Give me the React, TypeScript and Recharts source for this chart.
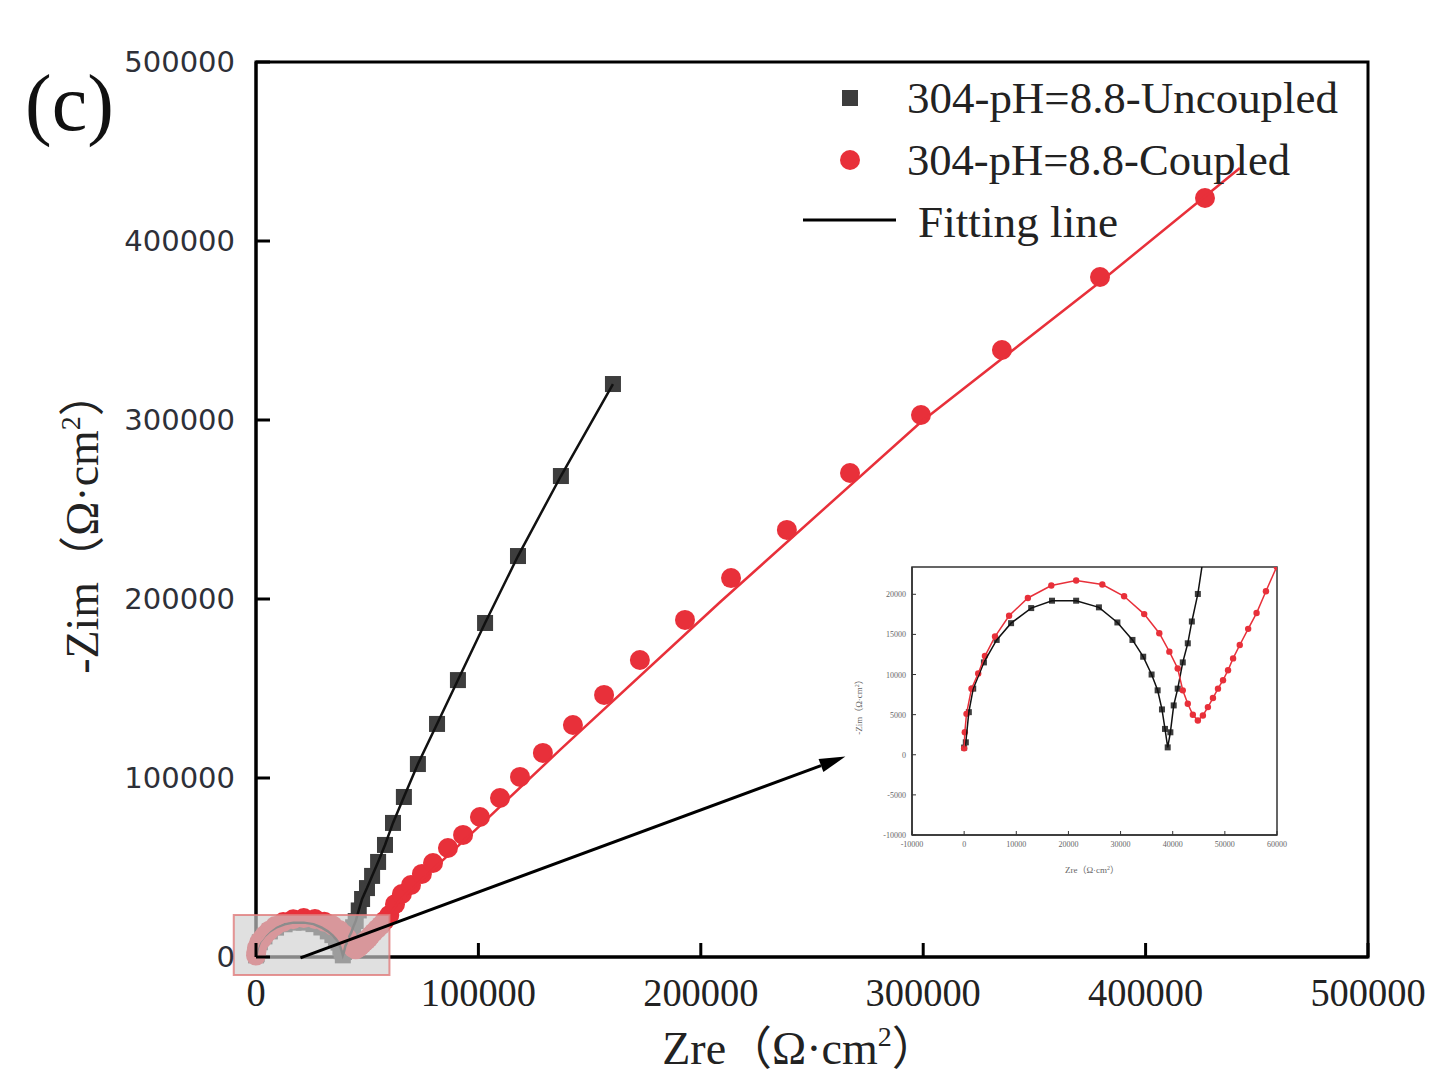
import React from 'react';
import {
  ScatterChart, Scatter, XAxis, YAxis, ReferenceArea, ReferenceLine,
} from 'recharts';

// Nyquist data, 304 stainless steel at pH 8.8 (Zre, -Zim in Ω·cm²)
const uncoupledZre = [0, 320, 900, 1740, 3790, 6240, 9000, 12860, 16850, 21480, 25850, 29390, 32280, 34340, 35950, 37110, 37940, 38520, 39040, 39550, 40190, 40960, 41930, 42890, 43670, 44820, 46200, 47700, 49900, 52200, 54900, 58000, 61600, 66500, 72800, 81400, 90800, 103000, 117800, 137100, 160500];
const uncoupledZim = [900, 1550, 5310, 8240, 11510, 14310, 16400, 18280, 19200, 19200, 18370, 16490, 14310, 12220, 10000, 8030, 5650, 3220, 920, 2800, 6150, 8240, 11510, 13890, 16610, 20040, 26000, 32400, 38500, 45300, 53100, 62600, 74900, 89400, 107800, 130200, 154700, 186600, 224000, 268700, 320100];

const coupledZre = [0, 130, 450, 1410, 2700, 3990, 5920, 8620, 12220, 16720, 21480, 26500, 30680, 34530, 37430, 39360, 40960, 41930, 42890, 43860, 44820, 45790, 46750, 47720, 48680, 49650, 50610, 51580, 52860, 54470, 56080, 57880, 59940, 62500, 65600, 69700, 74600, 79600, 86300, 93100, 100700, 109700, 118700, 129000, 142500, 156500, 172600, 192900, 213600, 238700, 267100, 299000, 335400, 379500, 426700];
const coupledZim = [800, 2800, 5100, 8240, 10130, 12300, 14730, 17320, 19540, 21090, 21720, 21210, 19750, 17530, 15150, 12850, 10750, 8030, 6360, 4980, 4270, 4900, 5940, 7070, 8240, 9290, 10540, 12010, 13680, 15690, 17660, 20380, 23430, 29500, 35200, 40200, 46400, 52500, 60900, 68200, 78200, 88800, 100600, 114000, 129600, 146400, 165900, 188300, 211700, 238600, 270400, 302800, 339100, 379900, 424000];

// equivalent-circuit fits
const uncoupledFitZre = uncoupledZre;
const uncoupledFitZim = uncoupledZim;
const coupledFitZre = [0, 130, 450, 1410, 2700, 3990, 5920, 8620, 12220, 16720, 21480, 26500, 30680, 34530, 37430, 39360, 40960, 41930, 42890, 43860, 44820, 45790, 46750, 47720, 48680, 49650, 50610, 51580, 52860, 54470, 56080, 57880, 59940, 64700, 100000, 136700, 208600, 299000, 379500, 442400];
const coupledFitZim = [800, 2800, 5100, 8240, 10130, 12300, 14730, 17320, 19540, 21090, 21720, 21210, 19750, 17530, 15150, 12850, 10750, 8030, 6360, 4980, 4270, 4900, 5940, 7070, 8240, 9290, 10540, 12010, 13680, 15690, 17660, 20380, 23430, 31800, 72600, 115700, 198200, 298900, 377100, 440800];

const mainTicks = [0, 100000, 200000, 300000, 400000, 500000];
const insetXTicks = [-10000, 0, 10000, 20000, 30000, 40000, 50000, 60000];
const insetYTicks = [-10000, -5000, 0, 5000, 10000, 15000, 20000];

const legendLabels = ['304-pH=8.8-Uncoupled', '304-pH=8.8-Coupled', 'Fitting line'];

const zip = (xs: number[], ys: number[]) => xs.map((x, i) => ({ x, y: ys[i] }));
const uncoupled = zip(uncoupledZre, uncoupledZim);
const coupled = zip(coupledZre, coupledZim);
const uncoupledFit = zip(uncoupledFitZre, uncoupledFitZim);
const coupledFit = zip(coupledFitZre, coupledFitZim);

const SERIF = '"Liberation Serif", "Times New Roman", "Noto Sans CJK SC", serif';
const SANS = '"DejaVu Sans", Verdana, sans-serif';
const RED = '#e8303a';
const GREY = '#3d3d3d';

const square = (size: number) => (p: any) =>
  <rect x={p.cx - size / 2} y={p.cy - size / 2} width={size} height={size} fill={GREY} />;
const dot = (r: number) => (p: any) => <circle cx={p.cx} cy={p.cy} r={r} fill={RED} />;
const noMarker = () => <g />;

// ticks are drawn inward, labels sit outside the frame
const MainYTick = ({ x, y, payload }: any) => (
  <g>
    <line x1={x + 21} y1={y} x2={x + 35} y2={y} stroke="#000" strokeWidth={3} />
    <text x={x} y={y + 10} textAnchor="end" fontFamily={SANS} fontSize={29} fill="#2e3038">
      {payload.value}
    </text>
  </g>
);

const MainXTick = ({ x, y, payload }: any) => {
  const s = String(payload.value);
  return (
    <g>
      <line x1={x} y1={y - 22} x2={x} y2={y - 36} stroke="#000" strokeWidth={3} />
      <text x={x} y={y + 27} textAnchor="middle" fontFamily={SERIF} fontSize={40} fill="#222"
        textLength={s.length * 19.2} lengthAdjust="spacingAndGlyphs">
        {s}
      </text>
    </g>
  );
};

const InsetYTick = ({ x, y, payload }: any) => (
  <g>
    <line x1={x + 6} y1={y} x2={x + 10} y2={y} stroke="#333" strokeWidth={1} />
    <text x={x} y={y + 3} textAnchor="end" fontFamily={SERIF} fontSize={8} fill="#666">
      {payload.value}
    </text>
  </g>
);

const InsetXTick = ({ x, y, payload }: any) => (
  <g>
    <line x1={x} y1={y - 8} x2={x} y2={y - 12} stroke="#333" strokeWidth={1} />
    <text x={x} y={y + 4} textAnchor="middle" fontFamily={SERIF} fontSize={8} fill="#666">
      {payload.value}
    </text>
  </g>
);

const Arrow = (p: any) => {
  const { x1, y1, x2, y2 } = p;
  const a = Math.atan2(y2 - y1, x2 - x1);
  const len = 26, half = 7;
  const bx = x2 - len * Math.cos(a), by = y2 - len * Math.sin(a);
  const px = -Math.sin(a) * half, py = Math.cos(a) * half;
  return (
    <g>
      <line x1={x1} y1={y1} x2={bx} y2={by} stroke="#000" strokeWidth={3} />
      <polygon points={`${x2},${y2} ${bx + px},${by + py} ${bx - px},${by - py}`} fill="#000" />
    </g>
  );
};

function Inset() {
  return (
    <div style={{ position: 'absolute', left: 840, top: 555 }}>
      <ScatterChart width={460} height={330} margin={{ top: 12, right: 23, bottom: 20, left: 0 }}>
        <XAxis type="number" dataKey="x" domain={[-10000, 60000]} ticks={insetXTicks} allowDataOverflow
          height={30} tickSize={0} tickMargin={8} tickLine={false} axisLine={{ stroke: '#333', strokeWidth: 1.5 }}
          tick={<InsetXTick />} interval={0} />
        <YAxis type="number" dataKey="y" domain={[-10000, 23400]} ticks={insetYTicks} allowDataOverflow
          width={72} tickSize={0} tickMargin={6} tickLine={false} axisLine={{ stroke: '#333', strokeWidth: 1.5 }}
          tick={<InsetYTick />} interval={0} />
        <ReferenceArea x1={-10000} x2={60000} y1={-10000} y2={23400} fill="none" stroke="#333" strokeWidth={1.5} />
        <Scatter data={uncoupled} shape={square(6)} isAnimationActive={false} />
        <Scatter data={coupled} shape={dot(3.2)} isAnimationActive={false} />
        <Scatter data={uncoupledFit} shape={noMarker} line={{ stroke: '#111', strokeWidth: 1.5 }} isAnimationActive={false} />
        <Scatter data={coupledFit} shape={noMarker} line={{ stroke: RED, strokeWidth: 1.5 }} isAnimationActive={false} />
      </ScatterChart>
      <svg width={460} height={330} style={{ position: 'absolute', left: 0, top: 0, pointerEvents: 'none' }}>
        <text transform="translate(22,150) rotate(-90)" textAnchor="middle" fontFamily={SERIF} fontSize={9} fill="#666">
          -Zim（Ω·cm<tspan dy={-3} fontSize={6}>2</tspan><tspan dy={3}>）</tspan>
        </text>
        <text x={252} y={318} textAnchor="middle" fontFamily={SERIF} fontSize={9} fill="#666">
          Zre（Ω·cm<tspan dy={-3} fontSize={6}>2</tspan><tspan dy={3}>）</tspan>
        </text>
      </svg>
    </div>
  );
}

export default function App() {
  return (
    <div style={{ position: 'absolute', left: 0, top: 0, width: 1444, height: 1088, background: '#fff', overflow: 'hidden' }}>
      <ScatterChart width={1444} height={1088} margin={{ top: 62, right: 76, bottom: 101, left: 0 }}>
        <XAxis type="number" dataKey="x" domain={[0, 500000]} ticks={mainTicks} interval={0} height={30}
          tickSize={0} tickMargin={22} tickLine={false} axisLine={{ stroke: '#000', strokeWidth: 3 }}
          tick={<MainXTick />} />
        <YAxis type="number" dataKey="y" domain={[0, 500000]} ticks={mainTicks} interval={0} width={256}
          tickSize={0} tickMargin={21} tickLine={false} axisLine={{ stroke: '#000', strokeWidth: 3 }}
          tick={<MainYTick />} />
        <ReferenceArea x1={0} x2={500000} y1={0} y2={500000} fill="none" stroke="#000" strokeWidth={3} />
        <Scatter data={uncoupled} shape={square(16)} isAnimationActive={false} />
        <Scatter data={coupled} shape={dot(10)} isAnimationActive={false} />
        <Scatter data={uncoupledFit} shape={noMarker} line={{ stroke: '#111', strokeWidth: 2.5 }} isAnimationActive={false} />
        <Scatter data={coupledFit} shape={noMarker} line={{ stroke: RED, strokeWidth: 2.5 }} isAnimationActive={false} />
        {/* highlighted low-impedance region, shown enlarged in the inset */}
        <ReferenceArea x1={-10000} x2={60000} y1={-10000} y2={23400} ifOverflow="visible" zIndex={900}
          fill="#cfcfcf" fillOpacity={0.65} stroke="#e07a7a" strokeOpacity={0.8} strokeWidth={2} />
        <ReferenceLine segment={[{ x: 20000, y: -500 }, { x: 265000, y: 112000 }]} ifOverflow="visible"
          zIndex={950} shape={Arrow} />
      </ScatterChart>

      <svg width={1444} height={1088} style={{ position: 'absolute', left: 0, top: 0, pointerEvents: 'none' }}>
        <text x={25} y={130} fontFamily={SERIF} fontSize={80} fill="#111">(c)</text>

        <text transform="translate(98,522) rotate(-90)" textAnchor="middle" fontFamily={SERIF} fontSize={46} fill="#222">
          -Zim（Ω·cm<tspan dy={-18} fontSize={28}>2</tspan><tspan dy={18}>）</tspan>
        </text>
        <text x={800} y={1064} textAnchor="middle" fontFamily={SERIF} fontSize={46} fill="#222">
          Zre（Ω·cm<tspan dy={-18} fontSize={28}>2</tspan><tspan dy={18}>）</tspan>
        </text>

        {/* legend */}
        <rect x={842} y={90} width={16} height={16} fill={GREY} />
        <circle cx={850} cy={160} r={10} fill={RED} />
        <line x1={803} y1={220} x2={896} y2={220} stroke="#000" strokeWidth={3} />
        <text x={907} y={113} fontFamily={SERIF} fontSize={44} fill="#222" textLength={431} lengthAdjust="spacingAndGlyphs">{legendLabels[0]}</text>
        <text x={907} y={175} fontFamily={SERIF} fontSize={44} fill="#222" textLength={383} lengthAdjust="spacingAndGlyphs">{legendLabels[1]}</text>
        <text x={918} y={237} fontFamily={SERIF} fontSize={44} fill="#222" textLength={200} lengthAdjust="spacingAndGlyphs">{legendLabels[2]}</text>
      </svg>

      <Inset />
    </div>
  );
}
